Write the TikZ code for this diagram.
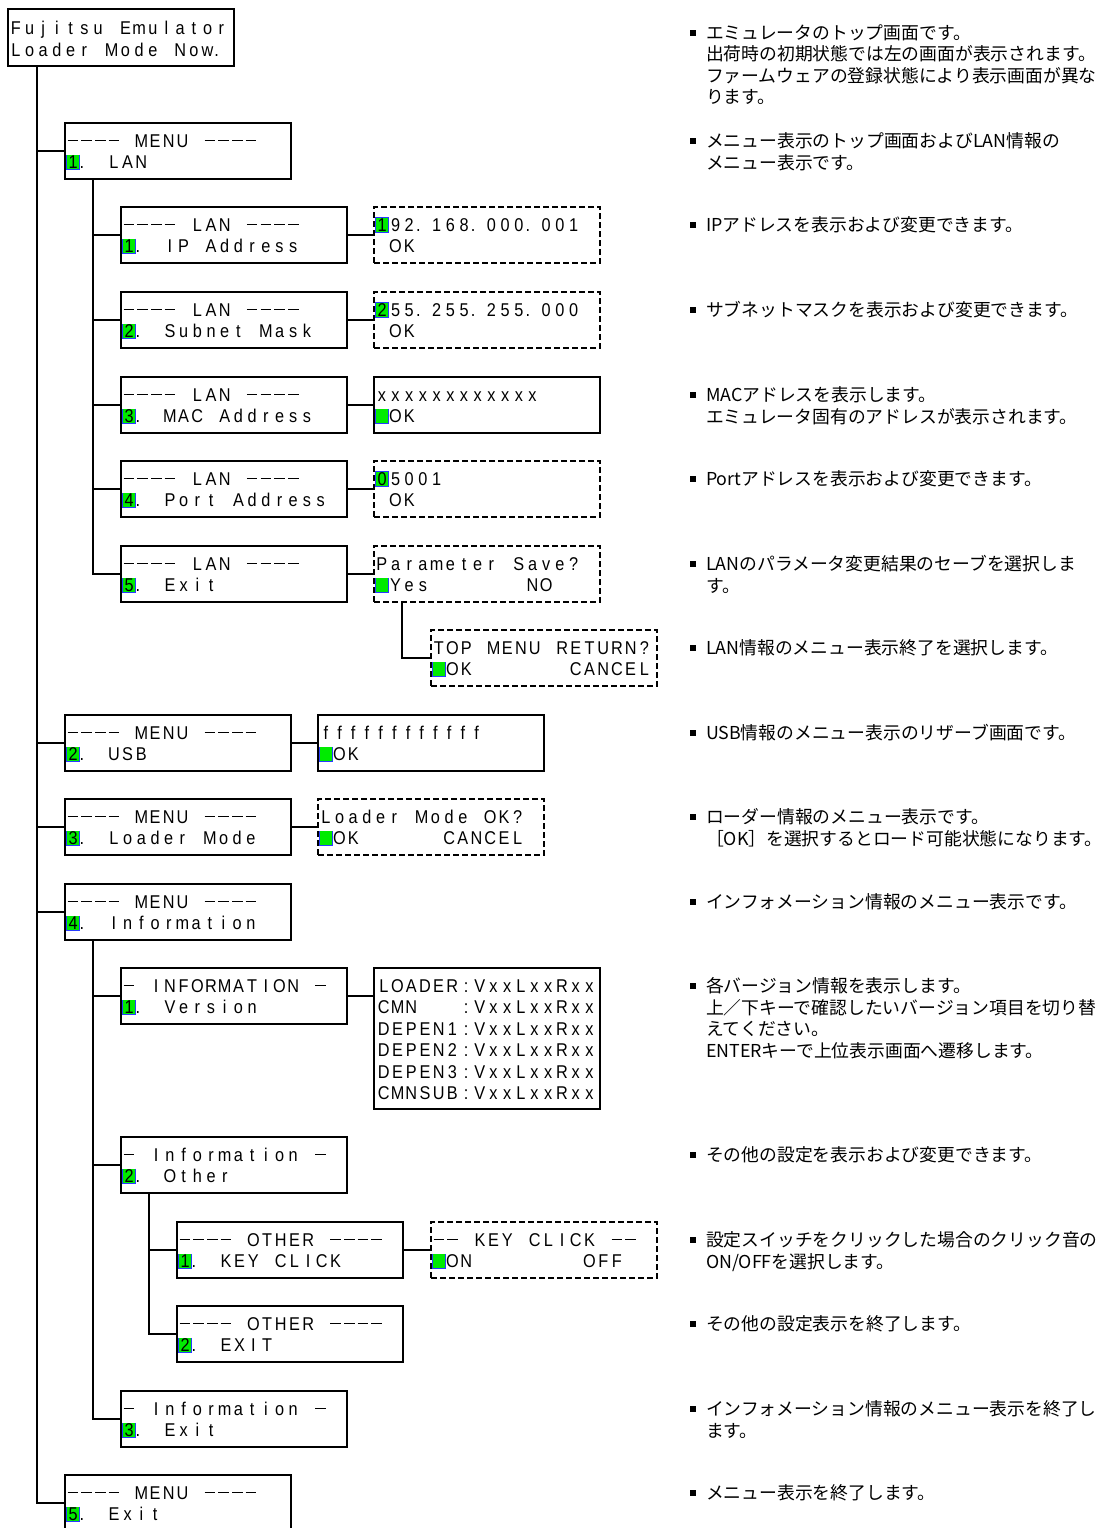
\documentclass[tikz,border=0pt]{standalone}
\usepackage{fontspec}
\newfontfamily\lcdfont[FakeStretch=0.88]{Liberation Sans}
\newfontfamily\jp{Noto Sans CJK JP}
\definecolor{curgreen}{RGB}{0,235,0}
\definecolor{curblue}{RGB}{40,60,255}
\def\lcdw{13.7pt}
\newcommand\lcdcell[1]{\makebox[\lcdw][c]{#1}}
\newcommand\lcddash{\makebox[\lcdw][c]{\rule[6.2pt]{10.5pt}{1.7pt}}}
\newcommand\lcddot{\makebox[\lcdw][l]{.}}
\newcommand\lcdsp{\kern\lcdw}
\ExplSyntaxOn
\NewDocumentCommand\lcd{m}{
  \str_map_inline:nn {#1}
    {
      \str_if_eq:nnTF {##1} {-} { \lcddash }
        {
          \str_if_eq:nnTF {##1} {.} { \lcddot }
            {
              \str_if_eq:nnTF {##1} {_} { \lcdsp } { \lcdcell {##1} }
            }
        }
    }
}
\ExplSyntaxOff
\newcommand\cur[1]{\makebox[\lcdw][l]{\hspace*{0.4pt}\rlap{\textcolor{curblue}{\rule[-1.5pt]{13.4pt}{15.6pt}}}\rlap{\hspace*{0.8pt}\textcolor{curgreen}{\rule[-0.7pt]{11.8pt}{14pt}}}\makebox[13.4pt][c]{#1}}}
\newcommand\screen[3]{\vbox to #2pt{\hsize=#1pt\offinterlineskip #3\vss}}
\newcommand\la[2][24.5]{\kern#1pt\hbox to\hsize{\hskip1pt\smash{#2}\hss}}
\newcommand\lb[2][21.2]{\kern#1pt\hbox to\hsize{\hskip1pt\smash{#2}\hss}}
\newcommand\dtext[1]{\vtop{\jp\fontsize{17.8}{21.5}\selectfont\baselineskip=21.5pt #1}}
\newcommand\df[1]{\hbox{\rule[3.9pt]{5.5pt}{5.5pt}\hspace*{10.5pt}#1}}
\newcommand\dl[1]{\hbox{\hspace*{16pt}#1}}
\begin{document}
\begin{tikzpicture}[x=1pt,y=-1pt,
  scr/.style={draw, line width=1.2pt, inner sep=0pt, outer sep=0pt, anchor=north west,
    font=\lcdfont\fontsize{18.5}{21}\selectfont},
  scrd/.style={scr, line width=2pt, dash pattern=on 6pt off 3pt},
  scrb/.style={scr, line width=2pt},
  con/.style={line width=1.2pt},
  desc/.style={inner sep=0pt, outer sep=0pt, anchor=base west}]
\path[use as bounding box, fill=white] (0,0) rectangle (1100,1528);
\clip (0,0) rectangle (1100,1528);
% ---- screens
\node[scr] (top) at (8,9) {\screen{226}{57}{\la[25.5]{\lcd{Fujitsu_Emulator}}\lb[21.5]{\lcd{Loader_Mode_Now.}}}};
\node[scr] (m1) at (65,123) {\screen{226}{56}{\la{\lcd{----_MENU_----}}\lb{\cur{1}\lcd{._LAN}}}};
\node[scr] (l1) at (121,207) {\screen{226}{56}{\la{\lcd{----_LAN_----}}\lb{\cur{1}\lcd{._IP_Address}}}};
\node[scrd] (r1) at (374,207) {\screen{226}{56}{\la{\cur{1}\lcd{92.168.000.001}}\lb{\lcd{_OK}}}};
\node[scr] (l2) at (121,292) {\screen{226}{56}{\la{\lcd{----_LAN_----}}\lb{\cur{2}\lcd{._Subnet_Mask}}}};
\node[scrd] (r2) at (374,292) {\screen{226}{56}{\la{\cur{2}\lcd{55.255.255.000}}\lb{\lcd{_OK}}}};
\node[scr] (l3) at (121,377) {\screen{226}{56}{\la{\lcd{----_LAN_----}}\lb{\cur{3}\lcd{._MAC_Address}}}};
\node[scr] (r3) at (374,377) {\screen{226}{56}{\la{\lcd{xxxxxxxxxxxx}}\lb{\cur{}\lcd{OK}}}};
\node[scr] (l4) at (121,461) {\screen{226}{56}{\la{\lcd{----_LAN_----}}\lb{\cur{4}\lcd{._Port_Address}}}};
\node[scrd] (r4) at (374,461) {\screen{226}{56}{\la{\cur{0}\lcd{5001}}\lb{\lcd{_OK}}}};
\node[scr] (l5) at (121,546) {\screen{226}{56}{\la{\lcd{----_LAN_----}}\lb{\cur{5}\lcd{._Exit}}}};
\node[scrd] (r5) at (374,546) {\screen{226}{56}{\la{\lcd{Parameter_Save?}}\lb{\cur{}\lcd{Yes_______NO}}}};
\node[scrd] (tm) at (431,630) {\screen{226}{56}{\la{\lcd{TOP_MENU_RETURN?}}\lb{\cur{}\lcd{OK_______CANCEL}}}};
\node[scr] (m2) at (65,715) {\screen{226}{56}{\la{\lcd{----_MENU_----}}\lb{\cur{2}\lcd{._USB}}}};
\node[scr] (u2) at (318,715) {\screen{226}{56}{\la{\lcd{ffffffffffff}}\lb{\cur{}\lcd{OK}}}};
\node[scr] (m3) at (65,799) {\screen{226}{56}{\la{\lcd{----_MENU_----}}\lb{\cur{3}\lcd{._Loader_Mode}}}};
\node[scrd] (lm) at (318,799) {\screen{226}{56}{\la{\lcd{Loader_Mode_OK?}}\lb{\cur{}\lcd{OK______CANCEL}}}};
\node[scr] (m4) at (65,884) {\screen{226}{56}{\la{\lcd{----_MENU_----}}\lb{\cur{4}\lcd{._Information}}}};
\node[scr] (i1) at (121,968) {\screen{226}{56}{\la{\lcd{-_INFORMATION_-}}\lb{\cur{1}\lcd{._Version}}}};
\node[scrb] (ver) at (374,968) {\screen{226}{141}{\la{\hskip2pt\lcd{LOADER:VxxLxxRxx}}\lb[21.4]{\hskip2pt\lcd{CMN___:VxxLxxRxx}}\lb[21.4]{\hskip2pt\lcd{DEPEN1:VxxLxxRxx}}\lb[21.4]{\hskip2pt\lcd{DEPEN2:VxxLxxRxx}}\lb[21.4]{\hskip2pt\lcd{DEPEN3:VxxLxxRxx}}\lb[21.4]{\hskip2pt\lcd{CMNSUB:VxxLxxRxx}}}};
\node[scr] (i2) at (121,1137) {\screen{226}{56}{\la{\lcd{-_Information_-}}\lb{\cur{2}\lcd{._Other}}}};
\node[scr] (o1) at (177,1222) {\screen{226}{56}{\la{\lcd{----_OTHER_----}}\lb{\cur{1}\lcd{._KEY_CLICK}}}};
\node[scrd] (kc) at (431,1222) {\screen{226}{56}{\la{\lcd{--_KEY_CLICK_--}}\lb{\cur{}\lcd{ON________OFF}}}};
\node[scr] (o2) at (177,1306) {\screen{226}{56}{\la{\lcd{----_OTHER_----}}\lb{\cur{2}\lcd{._EXIT}}}};
\node[scr] (i3) at (121,1391) {\screen{226}{56}{\la{\lcd{-_Information_-}}\lb{\cur{3}\lcd{._Exit}}}};
\node[scr] (m5) at (65,1475) {\screen{226}{56}{\la{\lcd{----_MENU_----}}\lb{\cur{5}\lcd{._Exit}}}};
% ---- connectors
\coordinate (t0) at ([xshift=29pt]top.south west);
\draw[con] (t0) |- (m5.west);
\foreach \n in {m1,m2,m3,m4} \draw[con] (t0 |- \n.west) -- (\n.west);
\coordinate (l0) at ([xshift=28pt]m1.south west);
\draw[con] (l0) |- (l5.west);
\foreach \n in {l1,l2,l3,l4} \draw[con] (l0 |- \n.west) -- (\n.west);
\foreach \a/\b in {l1/r1,l2/r2,l3/r3,l4/r4,l5/r5,m2/u2,m3/lm,o1/kc} \draw[con] (\a.east) -- (\b.west);
\coordinate (p0) at ([xshift=28pt]r5.south west);
\draw[con] (p0) |- (tm.west);
\coordinate (n0) at ([xshift=28pt]m4.south west);
\draw[con] (n0) |- (i3.west);
\foreach \n in {i1,i2} \draw[con] (n0 |- \n.west) -- (\n.west);
\draw[con] (i1.east) -- (i1.east -| ver.west);
\coordinate (q0) at ([xshift=28pt]i2.south west);
\draw[con] (q0) |- (o2.west);
\draw[con] (q0 |- o1.west) -- (o1.west);
% ---- descriptions
\node[desc] (d0) at (690,39.5) {\dtext{\df{エミュレータのトップ画面です。}\dl{出荷時の初期状態では左の画面が表示されます。}\dl{ファームウェアの登録状態により表示画面が異な}\dl{ります。}}};
\node[desc] (d1) at (690,147.5) {\dtext{\df{メニュー表示のトップ画面およびLAN情報の}\dl{メニュー表示です。}}};
\node[desc] (d2) at (690,231.5) {\dtext{\df{IPアドレスを表示および変更できます。}}};
\node[desc] (d3) at (690,316.5) {\dtext{\df{サブネットマスクを表示および変更できます。}}};
\node[desc] (d4) at (690,401.5) {\dtext{\df{MACアドレスを表示します。}\dl{エミュレータ固有のアドレスが表示されます。}}};
\node[desc] (d5) at (690,485.5) {\dtext{\df{Portアドレスを表示および変更できます。}}};
\node[desc] (d6) at (690,570.5) {\dtext{\df{LANのパラメータ変更結果のセーブを選択しま}\dl{す。}}};
\node[desc] (d7) at (690,654.5) {\dtext{\df{LAN情報のメニュー表示終了を選択します。}}};
\node[desc] (d8) at (690,739.5) {\dtext{\df{USB情報のメニュー表示のリザーブ画面です。}}};
\node[desc] (d9) at (690,823.5) {\dtext{\df{ローダー情報のメニュー表示です。}\dl{［OK］を選択するとロード可能状態になります。}}};
\node[desc] (d10) at (690,908.5) {\dtext{\df{インフォメーション情報のメニュー表示です。}}};
\node[desc] (d11) at (690,992.5) {\dtext{\df{各バージョン情報を表示します。}\dl{上／下キーで確認したいバージョン項目を切り替}\dl{えてください。}\dl{ENTERキーで上位表示画面へ遷移します。}}};
\node[desc] (d12) at (690,1161.5) {\dtext{\df{その他の設定を表示および変更できます。}}};
\node[desc] (d13) at (690,1246.5) {\dtext{\df{設定スイッチをクリックした場合のクリック音の}\dl{ON/OFFを選択します。}}};
\node[desc] (d14) at (690,1330.5) {\dtext{\df{その他の設定表示を終了します。}}};
\node[desc] (d15) at (690,1415.5) {\dtext{\df{インフォメーション情報のメニュー表示を終了し}\dl{ます。}}};
\node[desc] (d16) at (690,1499.5) {\dtext{\df{メニュー表示を終了します。}}};
\end{tikzpicture}
\end{document}
